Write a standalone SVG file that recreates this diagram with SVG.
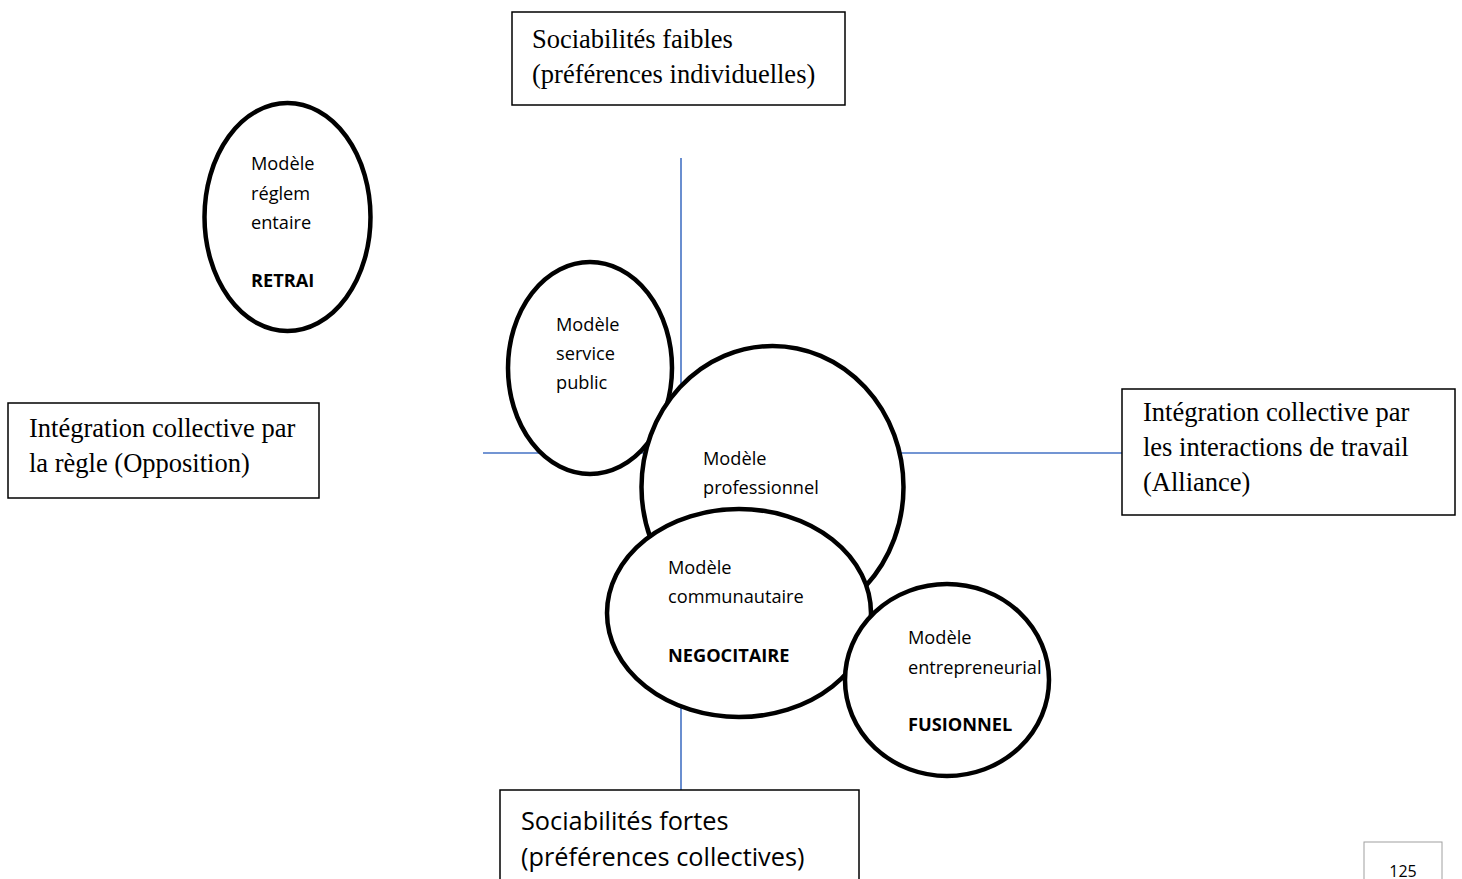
<svg xmlns="http://www.w3.org/2000/svg" width="1462" height="879" viewBox="0 0 1462 879">
<style>
.box{fill:#fff;stroke:#000;stroke-width:1.5}
.ell{fill:#fff;stroke:#000;stroke-width:4.5}
.axis{stroke:#4472C4;stroke-width:1.6;fill:none}
.serif{font-family:"Liberation Serif","Times New Roman",serif;font-size:26.5px;fill:#000}
.sans{font-family:"Open Sans","Noto Sans",sans-serif;font-size:18.2px;fill:#000}
.b{font-weight:bold}
.big{font-family:"Open Sans","Noto Sans",sans-serif;font-size:25.3px;fill:#000}
</style>
<rect width="1462" height="879" fill="#fff"/>
<g id="connectors">
<line class="axis" x1="681" y1="158" x2="681" y2="790"/>
<line class="axis" x1="483" y1="453" x2="1122" y2="453"/>
</g>
<g id="box-top">
<rect class="box" x="512" y="12" width="333" height="93"/>
<text class="serif" x="532" y="48">Sociabilités faibles</text>
<text class="serif" x="532" y="83">(préférences individuelles)</text>
</g>
<g id="box-left">
<rect class="box" x="8" y="403" width="311" height="95"/>
<text class="serif" x="29" y="437">Intégration collective par</text>
<text class="serif" x="29" y="472">la règle (Opposition)</text>
</g>
<g id="box-right">
<rect class="box" x="1122" y="389" width="333" height="126"/>
<text class="serif" x="1143" y="421">Intégration collective par</text>
<text class="serif" x="1143" y="456">les interactions de travail</text>
<text class="serif" x="1143" y="491">(Alliance)</text>
</g>
<g id="box-bottom">
<rect class="box" x="500" y="790" width="359" height="100"/>
<text class="big" x="521" y="830">Sociabilités fortes</text>
<text class="big" x="521" y="866">(préférences collectives)</text>
</g>
<g id="node-reglementaire">
<ellipse class="ell" cx="287.5" cy="217" rx="83" ry="114"/>
<text class="sans" x="251" y="170">Modèle</text>
<text class="sans" x="251" y="200">réglem</text>
<text class="sans" x="251" y="229">entaire</text>
<text class="sans b" x="251" y="287">RETRAI</text>
</g>
<g id="node-service-public">
<ellipse class="ell" cx="590" cy="368" rx="82" ry="106"/>
<text class="sans" x="556" y="331">Modèle</text>
<text class="sans" x="556" y="360">service</text>
<text class="sans" x="556" y="389">public</text>
</g>
<g id="node-professionnel">
<ellipse class="ell" cx="772.5" cy="487" rx="131" ry="141"/>
<text class="sans" x="703" y="465">Modèle</text>
<text class="sans" x="703" y="494">professionnel</text>
</g>
<g id="node-communautaire">
<ellipse class="ell" cx="739" cy="613" rx="132" ry="104"/>
<text class="sans" x="668" y="574">Modèle</text>
<text class="sans" x="668" y="603">communautaire</text>
<text class="sans b" x="668" y="662">NEGOCITAIRE</text>
</g>
<g id="node-entrepreneurial">
<ellipse class="ell" cx="947" cy="680" rx="102" ry="96"/>
<text class="sans" x="908" y="644">Modèle</text>
<text class="sans" x="908" y="674">entrepreneurial</text>
<text class="sans b" x="908" y="731">FUSIONNEL</text>
</g>
<g id="page-number">
<rect x="1364" y="842" width="78" height="50" fill="#fff" stroke="#a0a0a0" stroke-width="1"/>
<text x="1403" y="877" text-anchor="middle" font-family="Open Sans, Noto Sans, sans-serif" font-size="16" fill="#000">125</text>
</g>
</svg>
